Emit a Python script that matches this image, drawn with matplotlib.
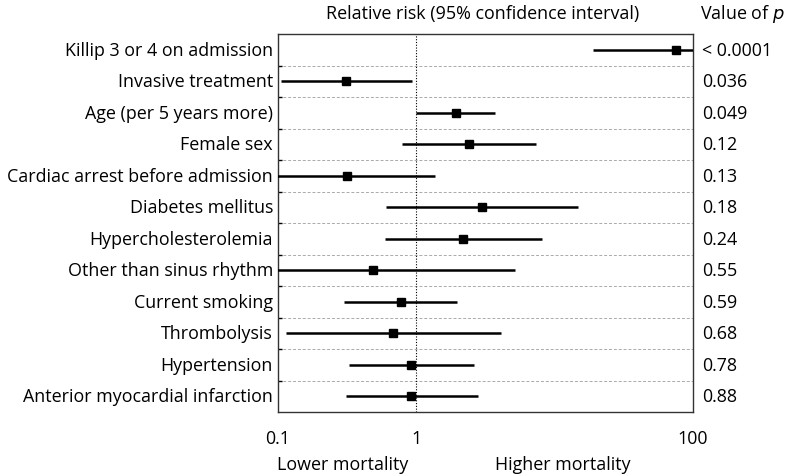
import matplotlib
matplotlib.use("Agg")
import matplotlib.pyplot as plt
import numpy as np

labels = ["Killip 3 or 4 on admission", "Invasive treatment", "Age (per 5 years more)",
          "Female sex", "Cardiac arrest before admission", "Diabetes mellitus",
          "Hypercholesterolemia", "Other than sinus rhythm", "Current smoking",
          "Thrombolysis", "Hypertension", "Anterior myocardial infarction"]
rr = [75, 0.31, 1.93, 2.40, 0.317, 2.97, 2.19, 0.486, 0.77, 0.68, 0.92, 0.92]
ci_low = [19.0, 0.105, 1.0, 0.79, 0.05, 0.607, 0.594, 0.05, 0.30, 0.114, 0.326, 0.309]
ci_high = [150, 0.935, 3.71, 7.3, 1.36, 14.7, 8.07, 5.14, 1.96, 4.1, 2.63, 2.78]
pvals = ["< 0.0001", "0.036", "0.049", "0.12", "0.13", "0.18", "0.24", "0.55",
         "0.59", "0.68", "0.78", "0.88"]
xticks = [0.1, 1, 100]
xticklabels = ["0.1", "1", "100"]

plt.rcParams['font.family'] = ['Open Sans', 'DejaVu Sans']
FS = 12.9
fig = plt.figure(figsize=(7.91, 4.77), dpi=100)
ax = fig.add_axes([278/791, 1 - 413/477, (693-278)/791, (413-35)/477])

n = len(labels)
y = np.arange(n)
ax.set_xscale('log')
ax.set_xlim(0.1, 100)
ax.set_ylim(n - 0.5, -0.5)

for i in range(n):
    ax.plot([ci_low[i], ci_high[i]], [i, i], color='black', lw=1.8, solid_capstyle='butt', zorder=3)
ax.plot(rr, y, 's', color='black', ms=5.5, zorder=4)

for k in range(n - 1):
    ax.axhline(k + 0.5, color='#aaaaaa', lw=0.7, ls=(0, (3, 2)), zorder=1)
ax.axvline(1, color='black', lw=0.8, ls=(0, (1, 1.5)), zorder=2)

ax.set_yticks(np.arange(n - 1) + 0.5)
ax.set_yticklabels([])
ax.tick_params(axis='y', direction='in', length=3, width=1, left=True, right=False)
for i, lab in enumerate(labels):
    ax.text(-0.012, i, lab, transform=ax.get_yaxis_transform(), ha='right', va='center', fontsize=FS)
    ax.text(1.021, i, pvals[i], transform=ax.get_yaxis_transform(), ha='left', va='center', fontsize=FS)

ax.set_xticks(xticks)
ax.set_xticklabels(xticklabels, fontsize=FS)
ax.xaxis.set_minor_locator(matplotlib.ticker.NullLocator())
ax.tick_params(axis='x', length=0, pad=12)

for s in ax.spines.values():
    s.set_linewidth(1.0)
    s.set_color('#333333')

fig.text(483/791, 1 - 14/477, "Relative risk (95% confidence interval)", ha='center', va='center', fontsize=FS)
fig.text(700/791, 1 - 14/477, "Value of $\\it{p}$", ha='left', va='center', fontsize=FS)
fig.text(277/791, 1 - 465/477, "Lower mortality", ha='left', va='center', fontsize=FS)
fig.text(495/791, 1 - 465/477, "Higher mortality", ha='left', va='center', fontsize=FS)

fig.savefig("out.png", dpi=100)
